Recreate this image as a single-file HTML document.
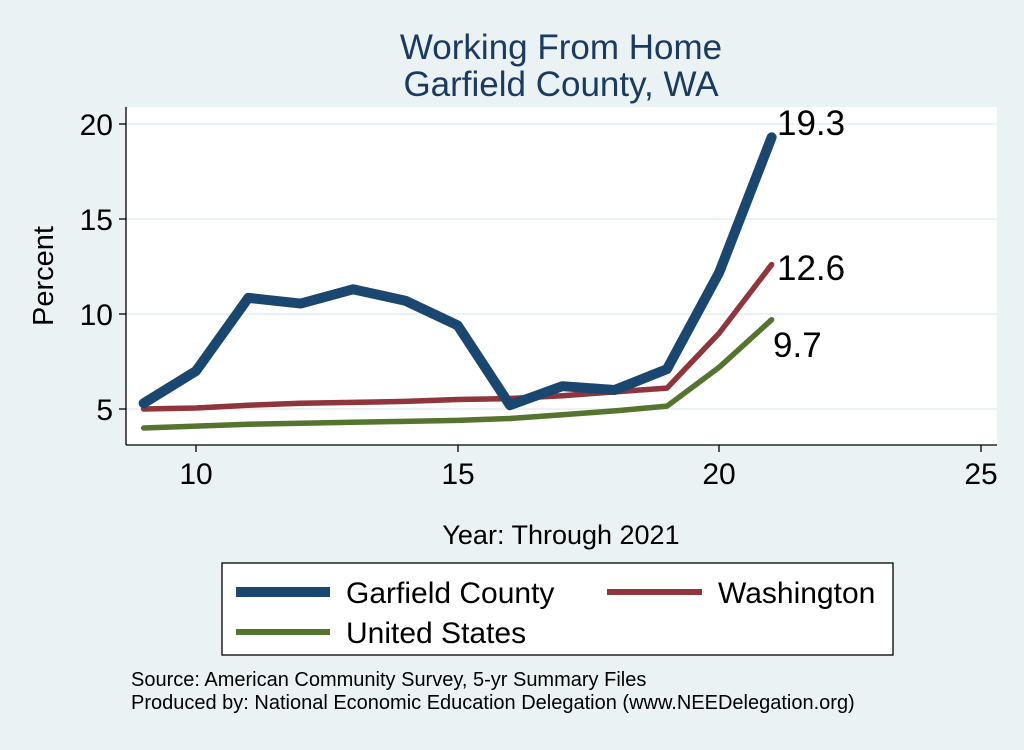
<!DOCTYPE html><html><head><style>body{margin:0;background:#eaf2f3}</style></head><body>
<svg id="s" width="1024" height="745" xmlns="http://www.w3.org/2000/svg" font-family="Liberation Sans, sans-serif">
<rect width="1024" height="745" fill="#eaf2f3"/>
<text x="561" y="59" font-size="35" fill="#1a3a60" text-anchor="middle">Working From Home</text>
<text x="561" y="96" font-size="35" fill="#1a3a60" text-anchor="middle">Garfield County, WA</text>
<rect x="126" y="107" width="871" height="338" fill="#fff"/>
<g stroke="#eaf2f3" stroke-width="2">
<line x1="126" x2="997" y1="124" y2="124"/><line x1="126" x2="997" y1="219" y2="219"/>
<line x1="126" x2="997" y1="314" y2="314"/><line x1="126" x2="997" y1="409" y2="409"/></g>
<g stroke="#000" stroke-width="1.3">
<line x1="126" x2="126" y1="107" y2="445"/><line x1="126" x2="997" y1="445" y2="445"/>
<line x1="119" x2="126" y1="124" y2="124"/><line x1="119" x2="126" y1="219" y2="219"/>
<line x1="119" x2="126" y1="314" y2="314"/><line x1="119" x2="126" y1="409" y2="409"/>
<line x1="196" x2="196" y1="445" y2="452"/><line x1="458" x2="458" y1="445" y2="452"/>
<line x1="719" x2="719" y1="445" y2="452"/><line x1="981" x2="981" y1="445" y2="452"/></g>
<g font-size="30" text-anchor="end"><text x="113" y="135">20</text><text x="113" y="230">15</text><text x="113" y="325">10</text><text x="113" y="420">5</text></g>
<g font-size="30" text-anchor="middle"><text x="196" y="484">10</text><text x="458" y="484">15</text><text x="719" y="484">20</text><text x="981" y="484">25</text></g>
<text transform="translate(53,276) rotate(-90)" font-size="29" text-anchor="middle">Percent</text>
<text x="561" y="544" font-size="27" text-anchor="middle">Year: Through 2021</text>
<g id="lines" fill="none" stroke-linejoin="round" stroke-linecap="round"></g>
<g font-size="35"><text x="777" y="135">19.3</text><text x="777" y="280">12.6</text><text x="773" y="357">9.7</text></g>
<rect x="222" y="563" width="671" height="92" fill="#fff" stroke="#000" stroke-width="1.3"/>
<line x1="236" x2="330" y1="592" y2="592" stroke="#1a476f" stroke-width="10"/>
<line x1="607" x2="702" y1="592" y2="592" stroke="#90353b" stroke-width="6"/>
<line x1="236" x2="330" y1="632" y2="632" stroke="#55752f" stroke-width="6"/>
<g font-size="30"><text x="346" y="603">Garfield County</text><text x="718" y="603">Washington</text><text x="346" y="643">United States</text></g>
<g font-size="20"><text x="131" y="686">Source: American Community Survey, 5-yr Summary Files</text><text x="131" y="709">Produced by: National Economic Education Delegation (www.NEEDelegation.org)</text></g>
</svg>
<script>
var X=t=>196+(t-10)*52.33,Y=v=>409-(v-5)*19;
var d=[["#55752f",5.5,[4.0,4.1,4.2,4.25,4.3,4.35,4.4,4.5,4.7,4.9,5.15,7.2,9.7]],
["#90353b",5.5,[5.0,5.05,5.2,5.3,5.35,5.4,5.5,5.55,5.7,5.9,6.1,9.0,12.6]],
["#1a476f",10,[5.3,7.0,10.85,10.55,11.3,10.7,9.4,5.2,6.2,6.0,7.1,12.2,19.3]]];
var g=document.getElementById("lines");
d.forEach(function(s){var p=document.createElementNS("http://www.w3.org/2000/svg","polyline");
p.setAttribute("points",s[2].map((v,i)=>X(9+i)+","+Y(v)).join(" "));
p.setAttribute("stroke",s[0]);p.setAttribute("stroke-width",s[1]);g.appendChild(p);});
</script>
</body></html>
